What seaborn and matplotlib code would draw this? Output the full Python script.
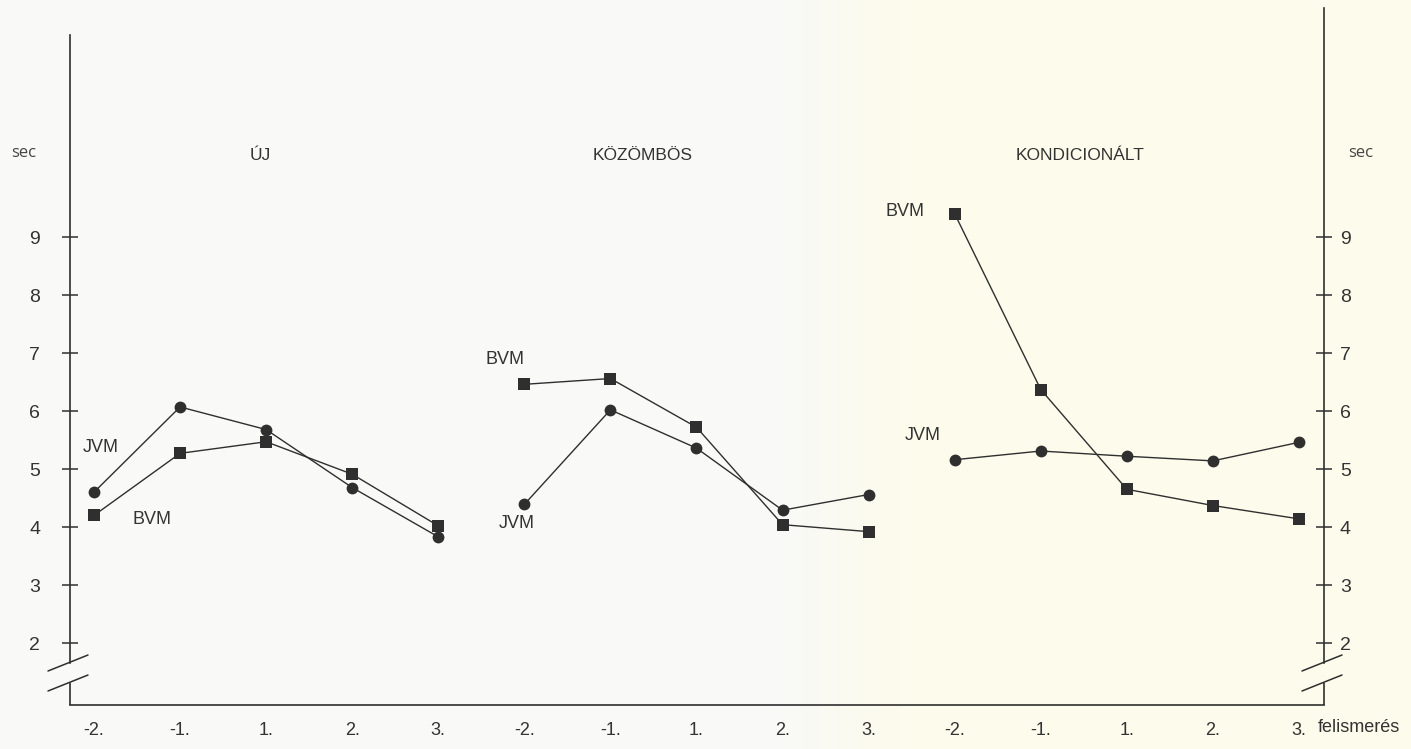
import numpy as np
import pandas as pd
import matplotlib
matplotlib.use("Agg")
import matplotlib.pyplot as plt
import seaborn as sns

# ---- data -------------------------------------------------------------
panels = ["ÚJ", "KÖZÖMBÖS", "KONDICIONÁLT"]
sessions = ["-2.", "-1.", "1.", "2.", "3."]
series = ["JVM", "BVM"]

jvm_uj = [4.60, 6.07, 5.68, 4.68, 3.83]
bvm_uj = [4.20, 5.27, 5.47, 4.91, 4.02]
jvm_kozombos = [4.39, 6.02, 5.36, 4.29, 4.56]
bvm_kozombos = [6.46, 6.56, 5.72, 4.04, 3.92]
jvm_kond = [5.16, 5.31, 5.22, 5.14, 5.46]
bvm_kond = [9.40, 6.37, 4.65, 4.37, 4.14]

y_ticks = [2, 3, 4, 5, 6, 7, 8, 9]

values = {
    ("ÚJ", "JVM"): jvm_uj, ("ÚJ", "BVM"): bvm_uj,
    ("KÖZÖMBÖS", "JVM"): jvm_kozombos, ("KÖZÖMBÖS", "BVM"): bvm_kozombos,
    ("KONDICIONÁLT", "JVM"): jvm_kond, ("KONDICIONÁLT", "BVM"): bvm_kond,
}

rows = []
for p, panel in enumerate(panels):
    for s in series:
        for i, v in enumerate(values[(panel, s)]):
            rows.append({"panel": panel, "sorozat": s, "pos": p * len(sessions) + i, "sec": v})
df = pd.DataFrame(rows)

# ---- style ------------------------------------------------------------
sns.set_style("white")
plt.rcParams["font.family"] = ["Liberation Sans", "DejaVu Sans"]
ink = "#2f2f2f"

W, H = 1411, 749
fig = plt.figure(figsize=(W / 100, H / 100), dpi=100)

# paper tone: light grey-white on the left, warmer cream on the right
bg = fig.add_axes([0, 0, 1, 1], zorder=0)
xs = np.arange(W)
t = np.clip((xs - 780) / 120.0, 0, 1)[None, :, None]
c_left = np.array([249, 249, 247]) / 255.0
c_right = np.array([252, 251, 236]) / 255.0
grad = c_left * (1 - t) + c_right * t
bg.imshow(grad, aspect="auto", extent=[0, 1, 0, 1])
bg.axis("off")

# axes geometry (pixels)
ax_l, ax_r, ax_b, ax_t = 70, 1324, 705, 4
ax = fig.add_axes([ax_l / W, 1 - ax_b / H, (ax_r - ax_l) / W, (ax_b - ax_t) / H], zorder=1)
ax.patch.set_alpha(0)

px_per_x = 86.07
px_per_y = 58.0
x0 = -(94 - ax_l) / px_per_x
x1 = (ax_r - 94) / px_per_x
y0 = 9 - (ax_b - 237) / px_per_y
y1 = 9 + (237 - ax_t) / px_per_y
ax.set_xlim(x0, x1)
ax.set_ylim(y0, y1)

# ---- lines ------------------------------------------------------------
for panel in panels:
    sub = df[df["panel"] == panel]
    sns.lineplot(
        data=sub, x="pos", y="sec", style="sorozat",
        markers={"JVM": "o", "BVM": "s"}, dashes=False,
        color=ink, linewidth=1.0, markersize=8.5, markeredgewidth=0,
        legend=False, sort=False, estimator=None, ax=ax,
    )
ax.set_xlabel("")
ax.set_ylabel("")

# ---- axes frame with broken vertical axes -----------------------------
lw_axis = 1.2
for side in ["top", "right"]:
    ax.spines[side].set_visible(False)
ax.spines["bottom"].set_color(ink)
ax.spines["bottom"].set_linewidth(lw_axis)
ax.spines["left"].set_color(ink)
ax.spines["left"].set_linewidth(lw_axis)

brk_hi = y0 + (ax_b - 663) / px_per_y
brk_lo = y0 + (ax_b - 683) / px_per_y
left_top = y0 + (ax_b - 35) / px_per_y
right_top = y0 + (ax_b - 8) / px_per_y
ax.spines["left"].set_bounds(brk_hi, left_top)

sdx_a, sdx_b = 22 / px_per_x, 18 / px_per_x
sdy = 8 / px_per_y
for xa in (x0, x1):
    ax.plot([xa, xa], [y0, brk_lo], color=ink, lw=lw_axis, clip_on=False,
            solid_capstyle="butt")
    for yc in (brk_hi, brk_lo):
        ax.plot([xa - sdx_a, xa + sdx_b], [yc - sdy, yc + sdy], color=ink,
                lw=1.1, clip_on=False)

ax2 = ax.twinx()
ax2.set_zorder(2)
ax2.set_ylim(y0, y1)
for side in ["top", "left", "bottom"]:
    ax2.spines[side].set_visible(False)
ax2.spines["right"].set_color(ink)
ax2.spines["right"].set_linewidth(lw_axis)
ax2.spines["right"].set_bounds(brk_hi, right_top)

# ---- ticks ------------------------------------------------------------
ax.set_xticks(range(len(panels) * len(sessions)))
ax.set_xticklabels(sessions * len(panels))
ax.tick_params(axis="x", direction="inout", length=12, width=1.1, color=ink,
               pad=6, labelsize=13, labelcolor="#333333")

ax.set_yticks(y_ticks)
ax.set_yticklabels([str(v) for v in y_ticks])
ax.tick_params(axis="y", direction="inout", length=11, width=1.1, color=ink,
               pad=16, labelsize=14, labelcolor="#333333")
ax2.set_yticks(y_ticks)
ax2.set_yticklabels([str(v) for v in y_ticks])
ax2.tick_params(axis="y", direction="inout", length=11, width=1.1, color=ink,
                pad=6, labelsize=14, labelcolor="#333333")

# ---- text -------------------------------------------------------------
def px2data(px, py):
    return x0 + (px - ax_l) / px_per_x, y0 + (ax_b - py) / px_per_y

title_px = [260, 643, 1080]
for name, tx in zip(panels, title_px):
    x, y = px2data(tx, 156)
    ax.text(x, y, name, ha="center", va="center", fontsize=12.5, color="#333333")

series_labels = [
    ("JVM", 101, 447), ("BVM", 152, 519),
    ("BVM", 505, 360), ("JVM", 517, 524),
    ("BVM", 905, 211), ("JVM", 923, 435),
]
for txt, lx, ly in series_labels:
    x, y = px2data(lx, ly)
    ax.text(x, y, txt, ha="center", va="center", fontsize=13, color="#333333")

for sx in (24, 1361):
    fig.text(sx / W, 1 - 153 / H, "sec", ha="center", va="center",
             fontsize=12, color="#444444", family=["Open Sans", "DejaVu Sans"])

fig.text(1318 / W, 1 - 727 / H, "felismerés", ha="left", va="center",
         fontsize=13, color="#333333")

fig.savefig("out.png", dpi=100)
